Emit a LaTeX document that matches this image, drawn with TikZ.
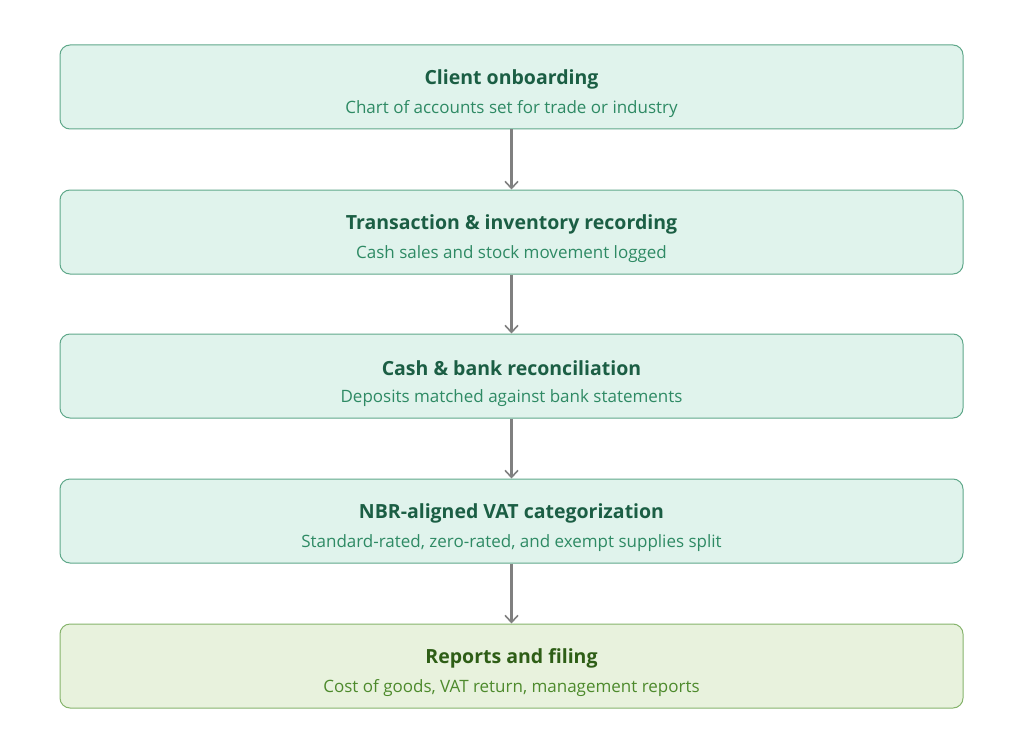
\documentclass[tikz,border=0pt]{standalone}
\usepackage{fontspec}
\setmainfont{Open Sans}
\usetikzlibrary{arrows.meta}
\definecolor{fillA}{HTML}{E0F3EC}
\definecolor{lineA}{HTML}{5FA88A}
\definecolor{titleA}{HTML}{1B5E44}
\definecolor{subA}{HTML}{2E8A64}
\definecolor{fillB}{HTML}{E8F2DD}
\definecolor{lineB}{HTML}{86B46C}
\definecolor{titleB}{HTML}{2E5E16}
\definecolor{subB}{HTML}{4D8A2C}
\definecolor{arr}{HTML}{808080}
\tikzset{
  stepbox/.style={draw=lineA, fill=fillA, line width=1pt, rounded corners=10pt,
    minimum width=903pt, minimum height=84pt, inner sep=0pt},
  finalbox/.style={stepbox, draw=lineB, fill=fillB},
  ttl/.style={font=\fontsize{19.5}{22}\selectfont\bfseries, text=titleA},
  sub/.style={font=\fontsize{17}{20}\selectfont, text=subA},
  ttlB/.style={ttl, text=titleB},
  subB/.style={sub, text=subB},
  flow/.style={draw=arr, line width=2.2pt, -{Straight Barb[length=7pt,width=13pt,line width=1.6pt]}}
}
\begin{document}
\begin{tikzpicture}[x=1pt,y=-1pt]
\useasboundingbox (0,0) rectangle (1024,738);
\node[stepbox] (b1) at (511.5,87) {};
\node[stepbox] (b2) at (511.5,232) {};
\node[stepbox] (b3) at (511.5,376) {};
\node[stepbox] (b4) at (511.5,521) {};
\node[finalbox] (b5) at (511.5,666) {};
\node[ttl] (t1) at (511.5,79) {Client onboarding};
\node[sub] (s1) at (511.5,109) {Chart of accounts set for trade or industry};
\node[ttl] (t2) at (511.5,224) {Transaction \& inventory recording};
\node[sub] (s2) at (511.5,254) {Cash sales and stock movement logged};
\node[ttl] (t3) at (511.5,368) {Cash \& bank reconciliation};
\node[sub] (s3) at (511.5,398) {Deposits matched against bank statements};
\node[ttl] (t4) at (511.5,513) {NBR-aligned VAT categorization};
\node[sub] (s4) at (511.5,543) {Standard-rated, zero-rated, and exempt supplies split};
\node[ttlB] (t5) at (511.5,658) {Reports and filing};
\node[subB] (s5) at (511.5,688) {Cost of goods, VAT return, management reports};
\draw[flow] (b1.south) -- (b2.north);
\draw[flow] (b2.south) -- (b3.north);
\draw[flow] (b3.south) -- (b4.north);
\draw[flow] (b4.south) -- (b5.north);
\end{tikzpicture}
\end{document}
